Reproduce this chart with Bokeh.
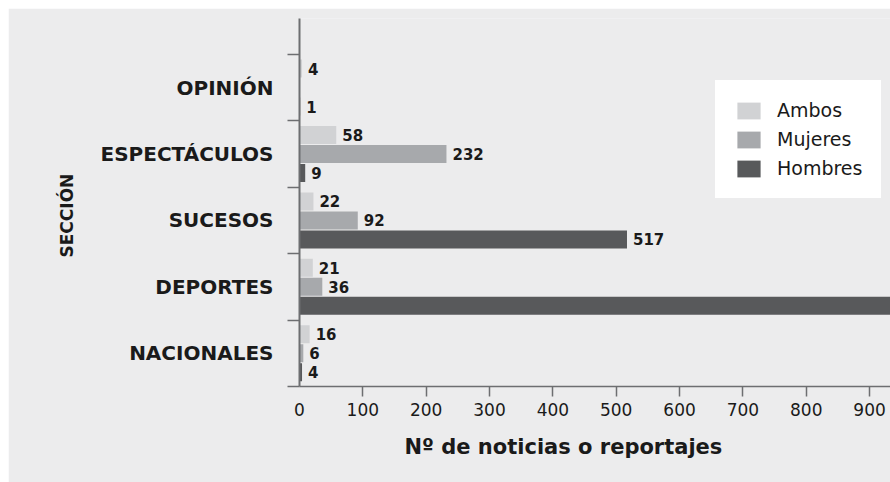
import math
from bokeh.plotting import figure
from bokeh.models import (ColumnDataSource, FixedTicker, Range1d, Legend,
                          LegendItem, Title)
from bokeh.core.properties import value
from bokeh.embed import file_html
from bokeh.resources import INLINE

# ---------------- data ----------------
categories = ["NACIONALES", "DEPORTES", "SUCESOS", "ESPECTÁCULOS", "OPINIÓN"]
ambos = [16, 21, 22, 58, 4]
mujeres = [6, 36, 92, 232, 0]
hombres = [4, 1050, 517, 9, 1]
series_names = ["Ambos", "Mujeres", "Hombres"]
series_colors = ["#d1d2d4", "#a7a9ac", "#58595b"]
x_ticks = [0, 100, 200, 300, 400, 500, 600, 700, 800, 900]
x_title = "Nº de noticias o reportajes"
y_title = "SECCIÓN"

FONT = "DejaVu Sans"
BG = "#ececed"
AXIS_COLOR = "#6d6e71"
TEXT_COLOR = "#1a1a1a"

X_END = 933
Y_END = 5.54
BAR_H = 0.271
STEP = 0.286

p = figure(width=882, height=474, output_backend="svg", toolbar_location=None,
           x_range=Range1d(0, X_END), y_range=Range1d(0, Y_END),
           min_border_left=291, min_border_right=0, min_border_top=10,
           min_border_bottom=96)
p.margin = (8, 0, 0, 8)
p.background_fill_color = BG
p.border_fill_color = BG
p.outline_line_color = None
p.xgrid.visible = False
p.ygrid.visible = False

centers = [i + 0.5 for i in range(len(categories))]
series_values = [ambos, mujeres, hombres]
offsets = [STEP, 0.0, -STEP]

renderers = []
for name, vals, col, off in zip(series_names, series_values, series_colors, offsets):
    src = ColumnDataSource(dict(y=[c + off for c in centers], right=vals))
    r = p.hbar(y="y", left=0, right="right", height=BAR_H, source=src,
               fill_color=col, line_color=None)
    renderers.append(r)
    lab_x = [v for v in vals if 0 < v < X_END]
    lab_y = [c + off for c, v in zip(centers, vals) if 0 < v < X_END]
    lab_t = [str(v) for v in vals if 0 < v < X_END]
    p.text(x=lab_x, y=lab_y, text=lab_t, x_offset=6,
           text_font=value(FONT), text_font_style="bold",
           text_font_size="15px", text_color=TEXT_COLOR,
           text_baseline="middle", text_align="left")

# x axis
xa = p.xaxis[0]
xa.ticker = FixedTicker(ticks=x_ticks, minor_ticks=x_ticks[1:])
xa.major_tick_out = 0
xa.major_tick_in = 0
xa.minor_tick_out = 10
xa.minor_tick_in = 0
xa.minor_tick_line_color = AXIS_COLOR
xa.minor_tick_line_width = 1.5
xa.axis_line_color = AXIS_COLOR
xa.axis_line_width = 1.5
xa.major_label_standoff = 6
xa.major_label_text_font = FONT
xa.major_label_text_font_size = "17px"
xa.major_label_text_color = TEXT_COLOR

# y axis
ya = p.yaxis[0]
ya.ticker = FixedTicker(ticks=centers, minor_ticks=list(range(len(categories) + 1)))
ya.major_label_overrides = {c: n for c, n in zip(centers, categories)}
ya.major_tick_out = 0
ya.major_tick_in = 0
ya.minor_tick_out = 12
ya.minor_tick_in = 0
ya.minor_tick_line_color = AXIS_COLOR
ya.minor_tick_line_width = 1.5
ya.axis_line_color = AXIS_COLOR
ya.axis_line_width = 2
ya.major_label_standoff = 14
ya.major_label_text_font = FONT
ya.major_label_text_font_style = "bold"
ya.major_label_text_font_size = "20px"
ya.major_label_text_color = TEXT_COLOR

# axis titles
p.add_layout(Title(text=x_title, align="left", offset=105, standoff=28,
                   text_font=FONT, text_font_style="bold",
                   text_font_size="21px", text_color=TEXT_COLOR), "below")
p.add_layout(Title(text=y_title, align="left", offset=129, standoff=42,
                   text_font=FONT, text_font_style="bold",
                   text_font_size="17px", text_color=TEXT_COLOR), "left")

legend = Legend(items=[LegendItem(label=n, renderers=[r])
                       for n, r in zip(series_names, renderers)],
                location=(416, 188), orientation="vertical",
                glyph_width=29, glyph_height=21, label_height=21,
                spacing=7, padding=18, label_standoff=14, margin=0,
                background_fill_color="white", background_fill_alpha=1,
                border_line_color="white", border_line_width=1,
                label_text_font=FONT, label_text_font_size="19px",
                label_text_color=TEXT_COLOR)
p.add_layout(legend)

open("out.html", "w").write(file_html(p, INLINE))
